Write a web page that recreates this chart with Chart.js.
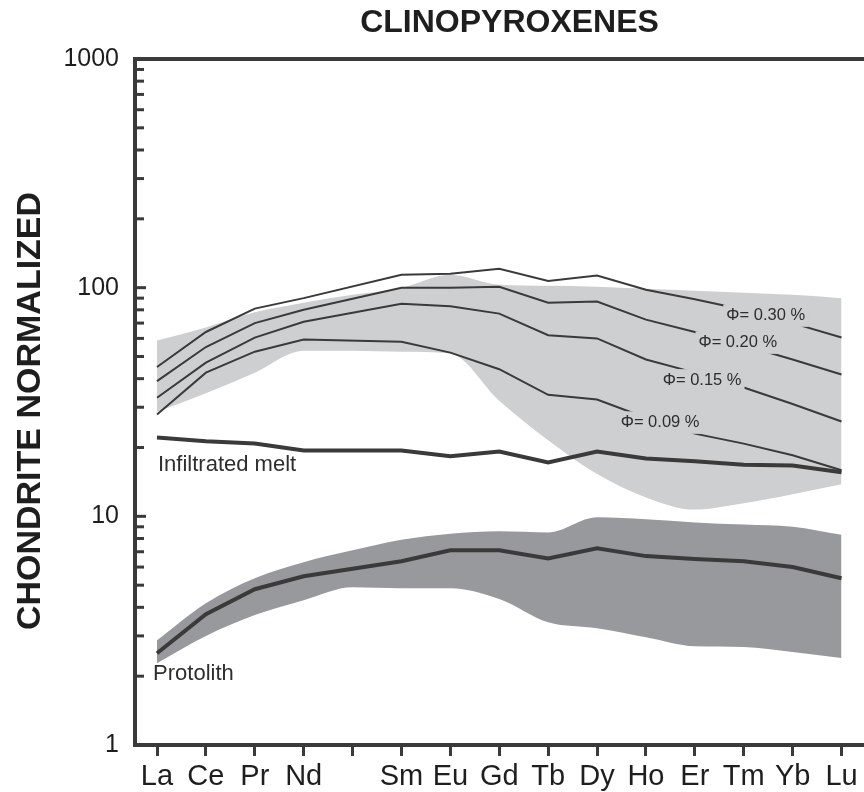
<!DOCTYPE html>
<html>
<head>
<meta charset="utf-8">
<title>Clinopyroxenes</title>
<script src="https://cdn.jsdelivr.net/npm/chart.js@4.4.1/dist/chart.umd.min.js"></script>
<style>
  html, body { margin: 0; padding: 0; background: #fff; }
</style>
</head>
<body>
<canvas id="chartCpx" width="864" height="792"></canvas>
<script>
// Rare earth elements (Pm is left blank but keeps its tick)
var ree = ['La', 'Ce', 'Pr', 'Nd', '', 'Sm', 'Eu', 'Gd', 'Tb', 'Dy', 'Ho', 'Er', 'Tm', 'Yb', 'Lu'];
var yTickLabels = [1, 10, 100, 1000];

// Model curves for different melt fractions
var phi030 = [45, 64, 81, 90, null, 114, 115, 121, 107, 113, 98, 89, 80, 70, 60.5];
var phi020 = [39, 55, 70, 80, null, 100, 100, 101, 86, 87, 72.5, 64, 56, 48.5, 41.7];
var phi015 = [33, 47, 60.5, 71, null, 85, 83, 77, 62, 60, 48.5, 42.5, 36.6, 31, 26];
var phi009 = [27.9, 42.5, 52.5, 59.3, null, 58, 52, 44, 34, 32.4, 27, 23, 20.8, 18.5, 15.9];
var infiltratedMelt = [22.1, 21.3, 20.8, 19.4, null, 19.4, 18.3, 19.2, 17.2, 19.2, 17.9, 17.4, 16.8, 16.7, 15.6];
var protolith = [2.52, 3.73, 4.8, 5.47, null, 6.36, 7.1, 7.1, 6.55, 7.25, 6.7, 6.5, 6.36, 6.0, 5.36];

// Range of measured clinopyroxenes (light grey) and protolith (dark grey)
var cpxUpper = [58.7, 67, 78, 86, 93, 100, 114, 103, 102, 101, 99, 97, 95, 93, 90];
var cpxLower = [28.6, 34.5, 42.5, 53, 53, 52.5, 51.5, 32, 21.5, 15.3, 12.1, 10.7, 11.4, 12.5, 13.8];
var protoUpper = [2.87, 4.17, 5.36, 6.3, 7.1, 7.9, 8.4, 8.6, 8.5, 9.9, 9.7, 9.4, 9.2, 9.0, 8.3];
var protoLower = [2.28, 3.0, 3.7, 4.3, 4.9, 4.85, 4.85, 4.35, 3.44, 3.24, 2.96, 2.7, 2.68, 2.55, 2.4];

// Text labels placed in data coordinates (x = element index)
var curveLabels = [
    { text: 'Φ= 0.30 %', x: 12.45, y: 75.5, align: 'center', size: 16.5, box: true },
    { text: 'Φ= 0.20 %', x: 11.88, y: 57.5, align: 'center', size: 16.5, box: true },
    { text: 'Φ= 0.15 %', x: 11.15, y: 39.3, align: 'center', size: 16.5, box: true },
    { text: 'Φ= 0.09 %', x: 10.29, y: 25.7, align: 'center', size: 16.5, box: true },
    { text: 'Infiltrated melt', x: 0.02, y: 16.7, align: 'left', size: 22, box: false },
    { text: 'Protolith', x: -0.08, y: 2.04, align: 'left', size: 22, box: false }
];

var chartTitle = 'CLINOPYROXENES';
var yTitle = 'CHONDRITE NORMALIZED';

var ink = '#3a3a3a';
var lightBand = 'rgb(206, 207, 209)';
var darkBand = 'rgb(152, 153, 157)';
var fontFamily = '"Liberation Sans", Arial, Helvetica, sans-serif';

function toPoints(values) {
    return values.map(function(v, i) { return { x: i, y: v }; });
}

function bandSet(values, color, fillTo) {
    return {
        data: toPoints(values),
        borderWidth: 0,
        pointRadius: 0,
        backgroundColor: color,
        fill: fillTo,
        cubicInterpolationMode: 'monotone'
    };
}

function lineSet(values, width) {
    return {
        data: toPoints(values),
        borderColor: ink,
        borderWidth: width,
        pointRadius: 0,
        fill: false,
        spanGaps: true,
        tension: 0
    };
}

// Frame extras: titles, top border, inward log ticks, curve labels
var frameExtras = {
    id: 'frameExtras',
    afterDatasetsDraw: function(chart) {
        var ctx = chart.ctx;
        var xs = chart.scales.x, ys = chart.scales.y;
        ctx.save();
        curveLabels.forEach(function(lab) {
            ctx.font = lab.size + 'px ' + fontFamily;
            ctx.textBaseline = 'middle';
            ctx.textAlign = lab.align;
            var px = xs.getPixelForValue(lab.x);
            var py = ys.getPixelForValue(lab.y);
            if (lab.box) {
                var w = ctx.measureText(lab.text).width;
                ctx.fillStyle = lightBand;
                ctx.fillRect(px - w / 2 - 3, py - lab.size / 2 - 3, w + 6, lab.size + 6);
            }
            ctx.fillStyle = '#2e2e2e';
            ctx.fillText(lab.text, px, py);
        });
        ctx.restore();
    },
    afterDraw: function(chart) {
        var ctx = chart.ctx;
        var area = chart.chartArea;
        var ys = chart.scales.y;
        ctx.save();
        ctx.strokeStyle = ink;
        ctx.lineWidth = 4;
        ctx.beginPath();
        ctx.moveTo(area.left - 2, area.top);
        ctx.lineTo(area.right, area.top);
        ctx.stroke();
        ctx.lineWidth = 3;
        for (var d = 1; d < 1000; d *= 10) {
            for (var m = 1; m <= 9; m++) {
                var py = ys.getPixelForValue(d * m);
                var len = m === 1 ? 11 : 9;
                ctx.beginPath();
                ctx.moveTo(area.left, py);
                ctx.lineTo(area.left + len, py);
                ctx.stroke();
            }
        }
        // titles
        ctx.fillStyle = '#1e1e1e';
        ctx.textAlign = 'center';
        ctx.textBaseline = 'middle';
        ctx.font = 'bold 32px ' + fontFamily;
        ctx.fillText(chartTitle, (area.left + area.right) / 2 + 10, area.top / 2 - 6);
        ctx.translate(31, (area.top + area.bottom) / 2 + 9);
        ctx.rotate(-Math.PI / 2);
        ctx.font = 'bold 34px ' + fontFamily;
        ctx.fillText(yTitle, 0, 0);
        ctx.restore();
    }
};

var ctx = document.getElementById('chartCpx').getContext('2d');
new Chart(ctx, {
    type: 'line',
    data: {
        datasets: [
            lineSet(phi030, 2),
            lineSet(phi020, 2),
            lineSet(phi015, 2),
            lineSet(phi009, 2),
            lineSet(infiltratedMelt, 4),
            lineSet(protolith, 4),
            bandSet(protoUpper, darkBand, '+1'),
            bandSet(protoLower, darkBand, false),
            bandSet(cpxUpper, lightBand, '+1'),
            bandSet(cpxLower, lightBand, false)
        ]
    },
    options: {
        responsive: false,
        animation: false,
        layout: { padding: { top: 59, left: 0, right: 0, bottom: 0 } },
        plugins: {
            legend: { display: false },
            tooltip: { enabled: false },
            filler: { drawTime: 'beforeDatasetsDraw' },
            title: { display: false }
        },
        scales: {
            x: {
                type: 'linear',
                min: -0.45,
                max: 14.46,
                afterBuildTicks: function(scale) {
                    scale.ticks = ree.map(function(_, i) { return { value: i }; });
                },
                afterFit: function(scale) { scale.height = 47; },
                ticks: {
                    autoSkip: false,
                    maxRotation: 0,
                    padding: 4,
                    color: '#1e1e1e',
                    font: { family: fontFamily, size: 29 },
                    callback: function(v) { return ree[v]; }
                },
                grid: {
                    drawOnChartArea: false,
                    drawTicks: true,
                    tickLength: 11,
                    tickWidth: 3,
                    tickColor: ink
                },
                border: { display: true, color: ink, width: 4 }
            },
            y: {
                type: 'logarithmic',
                min: 1,
                max: 1000,
                afterBuildTicks: function(scale) {
                    scale.ticks = yTickLabels.map(function(v) { return { value: v }; });
                },
                afterFit: function(scale) { scale.width = 135; },
                ticks: {
                    padding: 16,
                    color: '#1e1e1e',
                    font: { family: fontFamily, size: 25 },
                    callback: function(v) { return String(v); }
                },
                grid: { drawOnChartArea: false, drawTicks: false },
                border: { display: true, color: ink, width: 4 }
            }
        }
    },
    plugins: [frameExtras]
});
</script>
</body>
</html>
